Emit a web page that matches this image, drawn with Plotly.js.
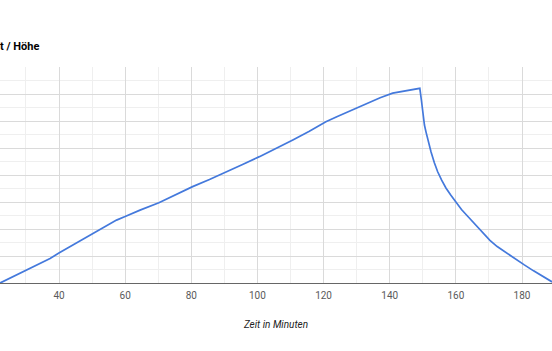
<!DOCTYPE html>
<html>
<head>
<meta charset="utf-8">
<script src="https://cdn.plot.ly/plotly-3.0.1.min.js"></script>
<style>html,body{margin:0;padding:0;background:#fff;}#chart{width:552px;height:351px;}</style>
</head>
<body>
<div id="chart"></div>
<script>
// Zeit in Minuten
const zeit = [22.2, 27.2, 32.2, 37.3, 40.1, 45.3, 50.2, 52.4, 57.4, 60.0, 64.5, 70.2, 75.6, 80.4, 85.5, 90.5, 95.5, 100.6, 106.8, 110.7, 115.7, 120.7, 124.0, 127.5, 130.8, 134.0, 137.1, 140.9, 143.5, 146.1, 149.1,
  149.6, 150.0, 150.5, 151.0, 151.7, 152.5, 153.5, 154.5, 155.7, 157.0, 158.5, 160.0, 161.7, 163.5, 165.5, 167.5, 170.3, 172.5, 175.4, 178.0, 180.7, 183.5, 186.0, 188.0, 189.1];
// Höhe
const hoehe = [0.0, 0.30, 0.58, 0.91, 1.12, 1.49, 1.81, 1.99, 2.33, 2.46, 2.70, 2.97, 3.28, 3.57, 3.83, 4.10, 4.39, 4.68, 5.05, 5.30, 5.62, 5.97, 6.16, 6.35, 6.53, 6.70, 6.86, 7.03, 7.09, 7.15, 7.21,
  6.75, 6.25, 5.85, 5.58, 5.20, 4.85, 4.45, 4.12, 3.81, 3.52, 3.25, 2.98, 2.72, 2.48, 2.22, 1.96, 1.58, 1.35, 1.10, 0.88, 0.67, 0.45, 0.26, 0.12, 0.04];
const titleText = "t / Höhe";
const xTitle = "Zeit in Minuten";

const trace = {
  x: zeit, y: hoehe, type: 'scatter', mode: 'lines',
  line: {color: '#4479dc', width: 1.7}, hoverinfo: 'skip'
};
const layout = {
  width: 552, height: 351,
  margin: {l: 0, r: 0, t: 67, b: 68, pad: 0},
  paper_bgcolor: '#fff', plot_bgcolor: '#fff',
  font: {family: 'Roboto, Arial, sans-serif', size: 10, color: '#444'},
  showlegend: false,
  title: {text: titleText, x: 0, xref: 'container', xanchor: 'left', y: 0.869, yref: 'container', yanchor: 'middle',
          font: {family: 'Roboto, Arial, sans-serif', size: 11, color: '#000', weight: 'bold'}},
  xaxis: {
    range: [22.16, 189.07], tick0: 0, dtick: 20, showgrid: true, gridcolor: '#dadada', gridwidth: 1,
    minor: {dtick: 10, tick0: 0, showgrid: true, gridcolor: '#efefef', gridwidth: 1},
    zeroline: false, showline: true, linecolor: '#666', linewidth: 1, ticks: '',
    tickfont: {size: 10, color: '#5a5a5a'}, ticklabelstandoff: 3,
    title: {text: xTitle, standoff: 20, font: {size: 10, color: '#222', style: 'italic'}}
  },
  yaxis: {
    range: [0, 8], dtick: 1, tick0: 0, showgrid: true, gridcolor: '#dadada', gridwidth: 1,
    minor: {dtick: 0.5, tick0: 0, showgrid: true, gridcolor: '#efefef', gridwidth: 1},
    zeroline: false, showticklabels: false, ticks: ''
  }
};
Plotly.newPlot('chart', [trace], layout, {displayModeBar: false, staticPlot: true});
</script>
</body>
</html>
